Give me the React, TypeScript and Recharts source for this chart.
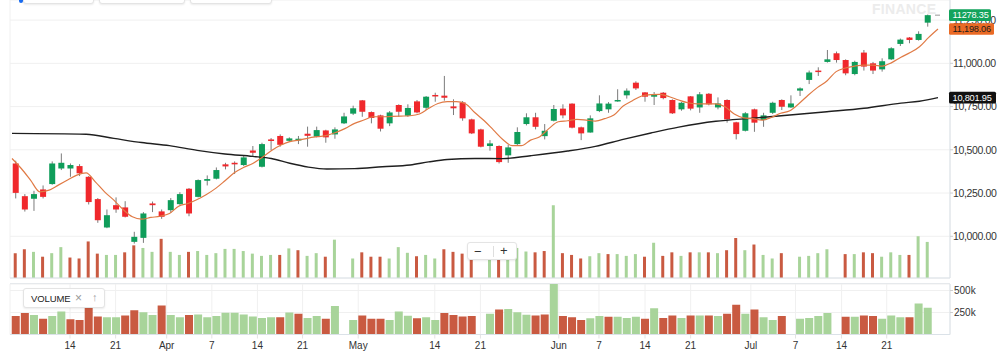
import React from "react";
import { Bar, CartesianGrid, Cell, ComposedChart, Line, ReferenceLine, XAxis, YAxis } from "recharts";

// daily candles
const OPEN = [
  10421, 10232, 10217, 10271, 10302, 10392, 10392, 10406, 10344, 10215,
  10051, 10180, 10167, 9968, 9991, 10190, 10144, 10151, 10186, 10275,
  10228, 10321, 10333, 10416, 10425, 10412, 10496, 10402, 10560, 10580,
  10552, 10554, 10593, 10576, 10612, 10589, 10653, 10709, 10786, 10718,
  10699, 10653, 10759, 10697, 10780, 10743, 10817, 10813, 10751, 10774,
  10676, 10618, 10522, 10522, 10468, 10533, 10649, 10688, 10579, 10668,
  10738, 10767, 10630, 10600, 10724, 10734, 10780, 10815, 10888, 10832,
  10807, 10830, 10788, 10734, 10809, 10745, 10824, 10745, 10788, 10659,
  10610, 10734, 10672, 10714, 10788, 10745, 10842, 10904, 10958, 11008,
  11058, 11019, 10938, 11062, 11000, 10965, 11023, 11112, 11149, 11135,
  11235,
];
const HIGH = [
  10437, 10244, 10263, 10294, 10433, 10479, 10421, 10417, 10348, 10221,
  10155, 10225, 10203, 10026, 10140, 10201, 10155, 10221, 10255, 10279,
  10329, 10352, 10398, 10425, 10433, 10468, 10522, 10541, 10568, 10589,
  10572, 10580, 10634, 10634, 10616, 10630, 10714, 10755, 10788, 10722,
  10703, 10724, 10763, 10763, 10788, 10811, 10830, 10927, 10792, 10782,
  10680, 10622, 10556, 10526, 10529, 10630, 10711, 10714, 10649, 10759,
  10763, 10769, 10634, 10699, 10815, 10776, 10850, 10855, 10896, 10834,
  10834, 10834, 10792, 10776, 10811, 10834, 10828, 10803, 10792, 10662,
  10718, 10738, 10714, 10778, 10792, 10815, 10861, 10958, 10977, 11077,
  11068, 11023, 11015, 11077, 11008, 11029, 11093, 11143, 11152, 11185,
  11282,
];
const LOW = [
  10219, 10143, 10147, 10219, 10298, 10383, 10344, 10348, 10184, 10078,
  10047, 10136, 10109, 9958, 9962, 10140, 10101, 10136, 10182, 10116,
  10225, 10294, 10329, 10387, 10360, 10406, 10464, 10398, 10498, 10518,
  10545, 10533, 10518, 10572, 10541, 10564, 10649, 10701, 10691, 10653,
  10606, 10637, 10691, 10691, 10711, 10730, 10778, 10784, 10701, 10668,
  10591, 10514, 10495, 10421, 10425, 10526, 10641, 10618, 10560, 10664,
  10682, 10624, 10556, 10599, 10718, 10714, 10778, 10796, 10846, 10778,
  10759, 10792, 10707, 10726, 10728, 10714, 10757, 10734, 10657, 10560,
  10606, 10604, 10633, 10707, 10730, 10742, 10811, 10880, 10927, 11004,
  11004, 10931, 10931, 10958, 10938, 10952, 11019, 11100, 11116, 11131,
  11212,
];
const CLOSE = [
  10251, 10155, 10244, 10228, 10421, 10425, 10412, 10364, 10198, 10093,
  10122, 10155, 10113, 9997, 10132, 10180, 10113, 10209, 10244, 10132,
  10325, 10331, 10383, 10404, 10416, 10456, 10483, 10533, 10551, 10529,
  10566, 10564, 10581, 10614, 10572, 10618, 10693, 10740, 10720, 10684,
  10622, 10716, 10720, 10742, 10716, 10807, 10809, 10801, 10740, 10682,
  10595, 10518, 10537, 10429, 10514, 10603, 10688, 10633, 10610, 10736,
  10699, 10628, 10595, 10682, 10768, 10767, 10788, 10842, 10855, 10807,
  10819, 10799, 10711, 10772, 10738, 10821, 10763, 10768, 10676, 10591,
  10711, 10657, 10699, 10772, 10749, 10768, 10855, 10947, 10951, 11023,
  11019, 10942, 11008, 10981, 10958, 11012, 11087, 11137, 11135, 11170,
  11278.35,
];
// thousands of shares, null where no bar is drawn
const VOLUME_K = [
  210, 243, 221, 180, 210, 261, 173, 165, 309, 206,
  195, 195, 217, 276, 254, 221, 331, 221, 195, 221,
  228, 195, 210, 246, 246, 228, 206, 187, 195, 195,
  250, 235, 187, 210, 180, 324, null, 165, 217, 180,
  180, 165, 261, 213, 184, 195, 165, 243, 221, 206,
  210, null, 235, 283, 290, 254, 224, 217, 228, 615,
  210, 195, 165, 184, 210, 202, 202, 187, 202, 180,
  298, 187, 217, 187, 217, 217, 217, 210, 235, 338,
  235, 283, 195, 165, 210, null, 180, 187, 210, 243,
  null, 202, 202, 217, 210, 180, 217, 195, 195, 353,
  305,
];
// orange (fast) and black (slow) averages as drawn
const MA_FAST = [
  10450, 10392, 10325, 10257, 10267, 10296, 10325, 10354, 10367, 10315,
  10257, 10209, 10155, 10113, 10099, 10109, 10116, 10132, 10174, 10190,
  10213, 10242, 10277, 10321, 10367, 10398, 10421, 10456, 10495, 10526,
  10547, 10556, 10568, 10576, 10583, 10601, 10624, 10653, 10672, 10691,
  10691, 10693, 10695, 10697, 10707, 10740, 10768, 10778, 10778, 10765,
  10714, 10668, 10614, 10560, 10524, 10524, 10556, 10576, 10624, 10662,
  10668, 10676, 10672, 10666, 10680, 10701, 10753, 10784, 10811, 10819,
  10821, 10807, 10788, 10772, 10766, 10765, 10765, 10749, 10707, 10685,
  10680, 10672, 10687, 10711, 10726, 10768, 10817, 10861, 10898, 10952,
  10973, 10984, 10990, 10990, 10984, 11004, 11035, 11062, 11096, 11150,
  11198.06,
];
const n = null;
const MA_SLOW = [
  10595, n, n, n, n, n, n, n, 10590, n,
  n, 10566, n, n, 10542, n, n, 10524, n, n,
  10497, n, n, 10476, n, n, 10462, n, 10450, n,
  10422, n, 10400, n, 10389, n, n, 10391, n, n,
  10402, n, n, 10412, n, 10430, n, 10444, n, n,
  10450, n, n, 10449, n, n, 10466, n, n, n,
  10493, n, n, 10520, n, n, 10560, n, n, 10597,
  n, n, 10631, n, n, n, 10665, n, n, n,
  10683, n, n, n, 10701, n, n, n, 10720, n,
  n, n, 10740, n, n, n, 10770, n, 10781, n,
  10801.95,
];

const TICK_POS = [6, 11, 16.6, 21.55, 26.55, 31.5, 37.6, 46, 51, 59.6, 64, 69.05, 74.05, 80.65, 85.55, 90.6, 95.55];
const TICK_LABELS = ["14", "21", "Apr", "7", "14", "21", "May", "14", "21", "Jun", "7", "14", "21", "Jul", "7", "14", "21"];
const PRICE_TICKS = [10000, 10250, 10500, 10750, 11000, 11250];
const VOLUME_TICKS = [250000, 500000];

const X_DOMAIN: [number, number] = [-0.58, 102.49];
const MA_X_DOMAIN: [number, number] = [-0.216, 101.296];
const PRICE_DOMAIN: [number, number] = [9759, 11366];

const UP = "#0f9d5a";
const DOWN = "#f0282c";
const WICK = "#7b7b7b";
const VOL_UP = "#a8d49a";
const VOL_DOWN = "#c95a41";
const GRID = "#f0f0f0";
const FRAME = "#dbe2e8";
const FONT = "'Liberation Sans', Arial, sans-serif";

const rows = CLOSE.map((c, i) => ({
  i,
  open: OPEN[i],
  high: HIGH[i],
  low: LOW[i],
  close: c,
  range: [LOW[i], HIGH[i]],
  vol: VOLUME_K[i] == null ? null : (VOLUME_K[i] as number) * 1000,
  volUp: i === 0 ? c >= OPEN[i] : c >= CLOSE[i - 1],
}));
const maRows = MA_FAST.map((v, i) => ({ i, fast: v, slow: MA_SLOW[i] }));

const LAST_CLOSE = CLOSE[CLOSE.length - 1];
const LAST_FAST = MA_FAST[MA_FAST.length - 1];
const LAST_SLOW = MA_SLOW[MA_SLOW.length - 1] as number;

const fmtPrice = (v: number) => v.toLocaleString("en-US", { minimumFractionDigits: 2, maximumFractionDigits: 2 });
const fmtDate = (v: number) => TICK_LABELS[TICK_POS.indexOf(v)] ?? "";

function Candle(props: any) {
  const { x, y, width, height, payload } = props;
  if (x == null || !payload) return null;
  const { open, close, high, low } = payload;
  const h = Math.abs(height);
  const top = Math.min(y, y + height);
  const px = (v: number) => top + ((high - v) / (high - low)) * h;
  const cx = x + width / 2;
  const bodyTop = px(Math.max(open, close));
  const bodyBot = px(Math.min(open, close));
  return (
    <g>
      <line x1={cx} x2={cx} y1={top} y2={top + h} stroke={WICK} strokeWidth={1} />
      <rect x={x} y={bodyTop} width={width} height={Math.max(1.5, bodyBot - bodyTop)} fill={close >= open ? UP : DOWN} />
    </g>
  );
}

function PriceTag({ viewBox, text, bg, color, w, dash }: any) {
  if (!viewBox) return null;
  const right = viewBox.x + viewBox.width;
  const y = viewBox.y;
  return (
    <g>
      {dash && <line x1={right - 15} x2={right - 10} y1={y} y2={y} stroke="#9a9a9a" strokeWidth={1} />}
      <rect x={right - 1} y={y - 5.8} width={w} height={11.6} rx={1.5} fill={bg} />
      <text x={right + 2.5} y={y + 3.3} fontSize={9.2} fill={color} letterSpacing={-0.2} fontFamily={FONT}>
        {text}
      </text>
    </g>
  );
}

const boxStyle: React.CSSProperties = {
  position: "absolute",
  background: "#fff",
  border: "1px solid #e4e4e4",
  borderRadius: 3,
  boxShadow: "0 1px 2px rgba(0,0,0,0.08)",
  boxSizing: "border-box",
};

export default function App() {
  return (
    <div style={{ position: "absolute", left: 0, top: 0, width: 1000, height: 356, background: "#fff", overflow: "hidden", fontFamily: FONT }}>
      {/* price pane */}
      <div style={{ position: "absolute", left: 0, top: 0 }}>
        <ComposedChart width={1000} height={279} data={rows} margin={{ top: 0, right: 0, bottom: 0, left: 10 }}>
          <XAxis
            xAxisId="c"
            dataKey="i"
            type="number"
            domain={X_DOMAIN}
            allowDataOverflow
            ticks={TICK_POS}
            interval={0}
            tick={false}
            tickLine={false}
            height={1}
            axisLine={{ stroke: FRAME }}
          />
          <XAxis xAxisId="v" dataKey="i" type="number" domain={X_DOMAIN} allowDataOverflow hide />
          <XAxis xAxisId="ma" dataKey="i" type="number" domain={MA_X_DOMAIN} allowDataOverflow hide />
          <YAxis
            yAxisId="p"
            orientation="right"
            domain={PRICE_DOMAIN}
            allowDataOverflow
            ticks={PRICE_TICKS}
            interval={0}
            width={50}
            tickSize={3}
            tickMargin={0}
            tickLine={{ stroke: "#cfcfcf" }}
            axisLine={{ stroke: FRAME }}
            tick={{ fontSize: 10.5, fill: "#333", letterSpacing: -0.35, fontFamily: FONT }}
            tickFormatter={fmtPrice}
          />
          <YAxis yAxisId="vo" domain={[0, 2350000]} allowDataOverflow hide />
          <CartesianGrid xAxisId="c" yAxisId="p" stroke={GRID} strokeWidth={1} />
          <Bar xAxisId="v" yAxisId="vo" dataKey="vol" barSize={3} isAnimationActive={false}>
            {rows.map((r) => (
              <Cell key={r.i} fill={r.volUp ? VOL_UP : VOL_DOWN} />
            ))}
          </Bar>
          <Bar xAxisId="c" yAxisId="p" dataKey="range" barSize={6} shape={<Candle />} isAnimationActive={false} />
          <Line
            data={maRows}
            xAxisId="ma"
            yAxisId="p"
            dataKey="slow"
            type="monotone"
            connectNulls
            stroke="#1f1f1f"
            strokeWidth={1.4}
            dot={false}
            activeDot={false}
            isAnimationActive={false}
          />
          <Line
            data={maRows}
            xAxisId="ma"
            yAxisId="p"
            dataKey="fast"
            type="monotone"
            stroke="#e07a45"
            strokeWidth={1.2}
            dot={false}
            activeDot={false}
            isAnimationActive={false}
          />
        </ComposedChart>
      </div>

      {/* last-value tags, drawn on a matching overlay so they sit above the axis labels */}
      <div style={{ position: "absolute", left: 0, top: 0, pointerEvents: "none" }}>
        <ComposedChart width={1000} height={279} data={rows} margin={{ top: 0, right: 50, bottom: 1, left: 10 }}>
          <XAxis xAxisId="c" dataKey="i" type="number" domain={X_DOMAIN} allowDataOverflow hide />
          <YAxis yAxisId="p" domain={PRICE_DOMAIN} allowDataOverflow hide />
          <ReferenceLine
            xAxisId="c"
            yAxisId="p"
            y={LAST_SLOW}
            stroke="none"
            label={(p: any) => <PriceTag viewBox={p.viewBox} text={fmtPrice(LAST_SLOW)} bg="#111" color="#fff" w={47} />}
          />
          <ReferenceLine
            xAxisId="c"
            yAxisId="p"
            y={LAST_FAST}
            stroke="none"
            label={(p: any) => <PriceTag viewBox={p.viewBox} text={fmtPrice(LAST_FAST)} bg="#ea6a25" color="#1c1c1c" w={45} />}
          />
          <ReferenceLine
            xAxisId="c"
            yAxisId="p"
            y={LAST_CLOSE}
            stroke="none"
            label={(p: any) => <PriceTag viewBox={p.viewBox} text={LAST_CLOSE.toFixed(2)} bg="#12a35c" color="#fff" w={42} dash />}
          />
        </ComposedChart>
      </div>

      {/* volume pane */}
      <div style={{ position: "absolute", left: 10, top: 283, width: 940, height: 1, background: FRAME }} />
      <div style={{ position: "absolute", left: 0, top: 283 }}>
        <ComposedChart width={1000} height={73} data={rows} margin={{ top: 1, right: 0, bottom: 0, left: 10 }}>
          <XAxis
            dataKey="i"
            type="number"
            domain={X_DOMAIN}
            allowDataOverflow
            ticks={TICK_POS}
            interval={0}
            tickFormatter={fmtDate}
            height={21.5}
            tickSize={4}
            tickMargin={3}
            tickLine={{ stroke: "#e3e3e3" }}
            axisLine={{ stroke: FRAME }}
            tick={{ fontSize: 10, fill: "#333", fontFamily: FONT }}
          />
          <YAxis
            orientation="right"
            domain={[0, 574000]}
            allowDataOverflow
            ticks={VOLUME_TICKS}
            interval={0}
            width={50}
            tickSize={3}
            tickMargin={1}
            tickLine={{ stroke: "#cfcfcf" }}
            axisLine={{ stroke: FRAME }}
            tick={{ fontSize: 10, fill: "#333", fontFamily: FONT }}
            tickFormatter={(v: number) => `${v / 1000}k`}
          />
          <CartesianGrid stroke={GRID} strokeWidth={1} />
          <Bar dataKey="vol" barSize={8} isAnimationActive={false}>
            {rows.map((r) => (
              <Cell key={r.i} fill={r.volUp ? VOL_UP : VOL_DOWN} />
            ))}
          </Bar>
        </ComposedChart>
      </div>

      {/* chrome around the plot */}
      <div style={{ position: "absolute", left: 872, top: 1, fontSize: 14, fontWeight: 700, color: "#ececec", letterSpacing: 0.3 }}>
        FINANCE
      </div>
      <div style={{ position: "absolute", left: 19, top: -4, width: 4, height: 7, borderRadius: 2, background: "#1a6cf0" }} />
      <div style={{ ...boxStyle, left: 23, top: -10, width: 71, height: 14 }} />
      <div style={{ ...boxStyle, left: 99, top: -10, width: 86, height: 14 }} />
      <div style={{ ...boxStyle, left: 190, top: -10, width: 82, height: 14 }} />

      <div style={{ ...boxStyle, left: 23, top: 288, width: 82, height: 20 }}>
        <span style={{ position: "absolute", left: 7, top: 4, fontSize: 9.5, color: "#222", letterSpacing: -0.1 }}>VOLUME</span>
        <span style={{ position: "absolute", left: 51, top: 2, fontSize: 12, color: "#9a9a9a" }}>×</span>
        <span style={{ position: "absolute", left: 68, top: 2, fontSize: 11, color: "#a5a5a5" }}>↑</span>
      </div>

      <div style={{ ...boxStyle, left: 467, top: 242, width: 50, height: 18 }}>
        <span style={{ position: "absolute", left: 6, top: 1, fontSize: 13, color: "#333" }}>−</span>
        <div style={{ position: "absolute", left: 25, top: 3, width: 1, height: 11, background: "#dedede" }} />
        <span style={{ position: "absolute", left: 32, top: 0, fontSize: 13, color: "#333" }}>+</span>
      </div>
    </div>
  );
}
